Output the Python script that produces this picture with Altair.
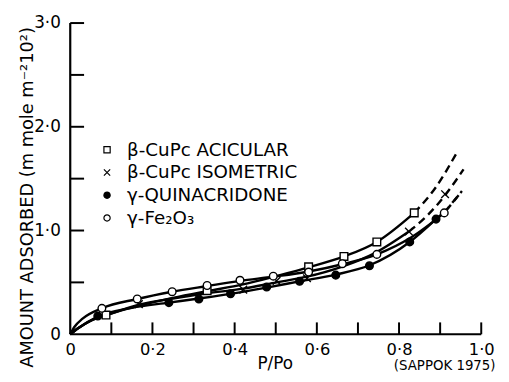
import altair as alt
import pandas as pd

# ---------------- data ----------------
series_names = ["β-CuPc ACICULAR", "β-CuPc ISOMETRIC", "γ-QUINACRIDONE", "γ-Fe₂O₃"]

# measured points
acic_x = [0.087, 0.333, 0.580, 0.666, 0.746, 0.837]
acic_y = [0.185, 0.42, 0.65, 0.75, 0.89, 1.17]
iso_x = [0.167, 0.421, 0.502, 0.576, 0.824, 0.912]
iso_y = [0.29, 0.43, 0.515, 0.54, 0.99, 1.35]
quin_x = [0.067, 0.24, 0.313, 0.39, 0.478, 0.558, 0.646, 0.728, 0.826, 0.89]
quin_y = [0.175, 0.305, 0.34, 0.39, 0.455, 0.51, 0.57, 0.66, 0.89, 1.11]
fe_x = [0.077, 0.163, 0.248, 0.333, 0.413, 0.494, 0.58, 0.662, 0.746, 0.91]
fe_y = [0.25, 0.34, 0.41, 0.47, 0.52, 0.56, 0.60, 0.68, 0.77, 1.17]

# drawn isotherm curves (solid part)
acic_cx = [0, 0.02, 0.05, 0.087, 0.167, 0.25, 0.333, 0.42, 0.5, 0.58, 0.666, 0.746, 0.837]
acic_cy = [0, 0.06, 0.13, 0.185, 0.275, 0.35, 0.415, 0.48, 0.56, 0.645, 0.75, 0.89, 1.17]
iso_cx = [0, 0.02, 0.05, 0.1, 0.167, 0.25, 0.333, 0.421, 0.502, 0.576, 0.66, 0.74, 0.824]
iso_cy = [0, 0.06, 0.13, 0.2, 0.285, 0.345, 0.395, 0.44, 0.5, 0.555, 0.65, 0.78, 0.99]
quin_cx = [0, 0.02, 0.067, 0.15, 0.24, 0.313, 0.39, 0.478, 0.558, 0.646, 0.728, 0.826, 0.89]
quin_cy = [0, 0.06, 0.17, 0.255, 0.305, 0.345, 0.39, 0.45, 0.51, 0.575, 0.665, 0.89, 1.11]
fe_cx = [0, 0.01, 0.03, 0.077, 0.163, 0.248, 0.333, 0.413, 0.494, 0.58, 0.662, 0.746, 0.83, 0.91]
fe_cy = [0, 0.07, 0.15, 0.25, 0.34, 0.41, 0.465, 0.515, 0.555, 0.605, 0.675, 0.77, 0.935, 1.17]

# dashed extrapolations
acic_dx = [0.837, 0.89, 0.939]
acic_dy = [1.17, 1.42, 1.74]
iso_dx = [0.824, 0.87, 0.912, 0.957]
iso_dy = [0.99, 1.15, 1.34, 1.59]
quin_dx = [0.89, 0.92, 0.945]
quin_dy = [1.11, 1.22, 1.34]
fe_dx = [0.91, 0.93, 0.953]
fe_dy = [1.17, 1.27, 1.38]

x_tick_vals = [0.1, 0.2, 0.3, 0.4, 0.5, 0.6, 0.7, 0.8, 0.9, 1.0]
y_tick_vals = [0.5, 1.0, 1.5, 2.0, 2.5, 3.0]
x_label_vals = [0, 0.2, 0.4, 0.6, 0.8, 1.0]
y_label_vals = [0, 1, 2, 3]
x_range = [0, 1.0]
y_range = [0, 3.0]

y_title = "AMOUNT ADSORBED (m mole m⁻²10²)"
x_title = "P/Po"
source_note = "(SAPPOK 1975)"

# ---------------- tables ----------------
def table(xs, ys, name):
    return pd.DataFrame({"x": xs, "y": ys, "series": name, "order": range(len(xs))})

pts = pd.concat([table(acic_x, acic_y, series_names[0]), table(iso_x, iso_y, series_names[1]),
                 table(quin_x, quin_y, series_names[2]), table(fe_x, fe_y, series_names[3])])
solid = pd.concat([table(acic_cx, acic_cy, series_names[0]), table(iso_cx, iso_cy, series_names[1]),
                   table(quin_cx, quin_cy, series_names[2]), table(fe_cx, fe_cy, series_names[3])])
dashed = pd.concat([table(acic_dx, acic_dy, series_names[0]), table(iso_dx, iso_dy, series_names[1]),
                    table(quin_dx, quin_dy, series_names[2]), table(fe_dx, fe_dy, series_names[3])])
axis_lines = pd.concat([
    pd.DataFrame({"x": x_range, "y": [0, 0], "a": "x", "order": [0, 1]}),
    pd.DataFrame({"x": [0, 0], "y": y_range, "a": "y", "order": [0, 1]}),
])

FONT = "DejaVu Sans"
W, H = 416, 315

label_expr = "datum.value == 0 ? '0' : replace(format(datum.value, '.1f'), '.', '·')"

xscale = alt.Scale(domain=x_range, nice=False, zero=True)
yscale = alt.Scale(domain=y_range, nice=False, zero=True)

x_axis = alt.Axis(
    values=x_label_vals, labelExpr=label_expr, ticks=False, grid=False,
    domain=False,
    labelFont=FONT, labelFontSize=16.5,
    labelColor="black", labelPadding=8, labelFlush=False, labelOverlap=False,
    title=x_title, titleFont=FONT, titleFontSize=17, titleFontWeight="normal",
    titleColor="black", titleX=207, titleY=35, titleAlign="center",
    titleBaseline="alphabetic", titleAnchor="start",
)
y_axis = alt.Axis(
    values=y_label_vals, labelExpr=label_expr, ticks=False, grid=False,
    domain=False,
    labelFont=FONT, labelFontSize=17,
    labelColor="black", labelPadding=10, labelFlush=False, labelOverlap=False,
    title=y_title, titleFont=FONT, titleFontSize=18, titleFontWeight="normal",
    titleColor="black", titleX=-38, titleY=176, titleAngle=270,
    titleAlign="center", titleBaseline="alphabetic", titleAnchor="start",
)

shape_range = ["square", "M-1,-1L1,1M-1,1L1,-1", "circle", "circle"]
fill_range = ["white", "white", "black", "white"]
stroke_range = ["black", "black", "black", "black"]

legend = alt.Legend(
    orient="none", legendX=28, legendY=119, title=None, padding=0,
    labelFont=FONT, labelFontSize=18.5, labelColor="black", labelOffset=11,
    symbolSize=40, symbolStrokeColor="black", symbolStrokeWidth=1.2,
    rowPadding=4, labelLimit=400,
)

X = alt.X("x:Q", scale=xscale, axis=x_axis)
Y = alt.Y("y:Q", scale=yscale, axis=y_axis)

axis_layer = alt.Chart(axis_lines).mark_line(
    color="black", strokeWidth=2.2
).encode(x=X, y=Y, detail="a:N", order="order:Q")

solid_layer = alt.Chart(solid).mark_line(
    interpolate="monotone", color="black", strokeWidth=2.4
).encode(x=X, y=Y, detail="series:N", order="order:Q")

dashed_layer = alt.Chart(dashed).mark_line(
    interpolate="monotone", color="black", strokeWidth=2.4, strokeDash=[8, 5]
).encode(x=X, y=Y, detail="series:N", order="order:Q")

point_layer = alt.Chart(pts).mark_point(
    filled=True, strokeWidth=1.4, size=60, opacity=1
).encode(
    x=X, y=Y,
    shape=alt.Shape("series:N", sort=series_names,
                    scale=alt.Scale(domain=series_names, range=shape_range), legend=legend),
    fill=alt.Fill("series:N", sort=series_names,
                  scale=alt.Scale(domain=series_names, range=fill_range), legend=legend),
    stroke=alt.Stroke("series:N", sort=series_names,
                      scale=alt.Scale(domain=series_names, range=stroke_range), legend=legend),
)

xticks = alt.Chart(pd.DataFrame({"v": x_tick_vals})).mark_tick(
    color="black", orient="vertical", size=12, thickness=2, opacity=1
).encode(x=alt.X("v:Q", scale=xscale, axis=x_axis), y=alt.value(H - 6))

yticks = alt.Chart(pd.DataFrame({"v": y_tick_vals})).mark_tick(
    color="black", orient="horizontal", size=14, thickness=2, opacity=1
).encode(y=alt.Y("v:Q", scale=yscale, axis=y_axis), x=alt.value(7))

note = alt.Chart(pd.DataFrame({"t": [source_note]})).mark_text(
    font=FONT, fontSize=13.5, color="black", align="center", baseline="alphabetic"
).encode(text="t:N", x=alt.value(379), y=alt.value(H + 36))

chart = alt.layer(
    axis_layer, xticks, yticks, solid_layer, dashed_layer, point_layer, note
).properties(
    width=W, height=H,
    autosize=alt.AutoSizeParams(type="none"),
    padding={"left": 63, "top": 13, "right": 20, "bottom": 38},
).configure_view(stroke=None)

chart.save("out.html", embed_options={"renderer": "svg", "actions": False})
